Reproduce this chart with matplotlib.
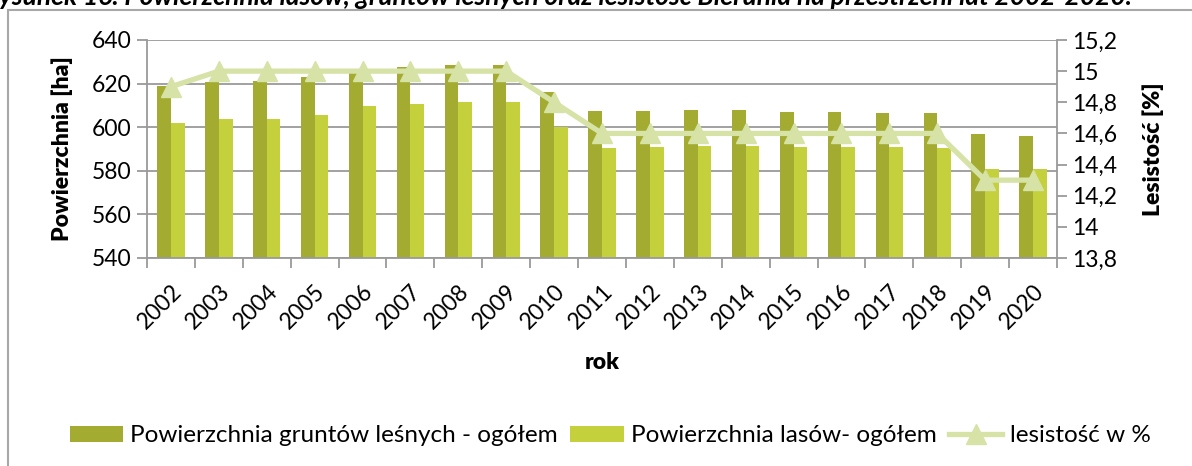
import numpy as np
import matplotlib.pyplot as plt
from matplotlib.patches import Rectangle

plt.rcParams['font.family'] = ['Lato', 'DejaVu Sans']

lata = ['2002', '2003', '2004', '2005', '2006', '2007', '2008', '2009', '2010',
        '2011', '2012', '2013', '2014', '2015', '2016', '2017', '2018', '2019', '2020']
grunty = [618.9, 620.9, 621.3, 622.9, 625.0, 627.5, 628.7, 628.5, 616.1,
          607.4, 607.4, 607.9, 608.0, 607.0, 606.8, 606.5, 606.5, 596.9, 596.0]
lasy = [601.8, 603.6, 603.9, 605.6, 609.7, 610.6, 611.7, 611.5, 600.0,
        590.6, 591.1, 591.4, 591.5, 591.1, 591.1, 590.8, 590.6, 580.7, 580.7]
lesistosc = [14.9, 15.0, 15.0, 15.0, 15.0, 15.0, 15.0, 15.0, 14.8,
             14.6, 14.6, 14.6, 14.6, 14.6, 14.6, 14.6, 14.6, 14.3, 14.3]
lewe_ticki = [540, 560, 580, 600, 620, 640]
prawe_ticki = [13.8, 14.0, 14.2, 14.4, 14.6, 14.8, 15.0, 15.2]
prawe_etykiety = ['13,8', '14', '14,2', '14,4', '14,6', '14,8', '15', '15,2']

c_ciemny = '#A3AC30'
c_jasny = '#C4D13C'
c_linia = '#D6E2A6'
c_szary = '#9A9A9A'
fs = 16.5

fig = plt.figure(figsize=(11.92, 4.66), dpi=100)
fig.patches.append(Rectangle((8 / 1192, -0.2), 1.2, 1.2 - 10 / 466,
                             transform=fig.transFigure, fill=False,
                             edgecolor='#A8A8A8', linewidth=1.5))
fig.text(-0.0145, 1 - 5 / 466,
         'Rysunek 16. Powierzchnia lasów, gruntów leśnych oraz lesistość Bierunia na przestrzeni lat 2002-2020.',
         fontsize=19, style='italic', fontweight='bold', va='baseline', ha='left')

ax = fig.add_axes([147 / 1192, 208 / 466, 910 / 1192, 218 / 466])
x = np.arange(len(lata))
w = 0.286
b1 = ax.bar(x - w / 2, grunty, w, color=c_ciemny, zorder=2,
            label='Powierzchnia gruntów leśnych - ogółem')
b2 = ax.bar(x + w / 2, lasy, w, color=c_jasny, zorder=2,
            label='Powierzchnia lasów- ogółem')
ax.set_ylim(540, 640)
ax.set_yticks(lewe_ticki)
ax.set_xlim(-0.5, len(lata) - 0.5)
ax.set_xticks(x)
ax.set_xticklabels(lata, rotation=45, ha='right', rotation_mode='anchor')
ax.set_xticks(np.arange(-0.5, len(lata)), minor=True)
ax.tick_params(axis='x', which='major', length=0, labelsize=fs, pad=16)
ax.tick_params(axis='x', which='minor', length=7, color=c_szary, width=1.3)
ax.tick_params(axis='y', length=7, color=c_szary, width=1.3, labelsize=fs, pad=4)
ax.yaxis.grid(True, color=c_szary, linewidth=1.3, zorder=0)
ax.set_axisbelow(True)
for s in ['top', 'right']:
    ax.spines[s].set_visible(False)
for s in ['left', 'bottom']:
    ax.spines[s].set_color(c_szary)
    ax.spines[s].set_linewidth(1.3)
ax.set_ylabel('Powierzchnia [ha]', fontsize=fs, fontweight='heavy', labelpad=14)
ax.set_xlabel('rok', fontsize=fs, fontweight='heavy', labelpad=14)

ax2 = ax.twinx()
l1, = ax2.plot(x, lesistosc, color=c_linia, linewidth=3.8, marker='^',
               markersize=15, zorder=3, label='lesistość w %')
ax2.set_ylim(13.8, 15.2)
ax2.set_yticks(prawe_ticki)
ax2.set_yticklabels(prawe_etykiety)
ax2.tick_params(axis='y', length=7, color=c_szary, width=1.3, labelsize=fs, pad=4)
for s in ['top', 'left', 'bottom']:
    ax2.spines[s].set_visible(False)
ax2.spines['right'].set_color(c_szary)
ax2.spines['right'].set_linewidth(1.3)
ax2.set_ylabel('Lesistość [%]', fontsize=fs, fontweight='heavy', labelpad=18)

fig.legend(handles=[b1, b2, l1], loc='center', bbox_to_anchor=(610 / 1192, 1 - 436 / 466),
           ncol=3, frameon=False, fontsize=17.5, handlelength=2.2, handleheight=0.62,
           handletextpad=0.3, columnspacing=0.5, borderaxespad=0)

fig.savefig('out.png', dpi=100)
